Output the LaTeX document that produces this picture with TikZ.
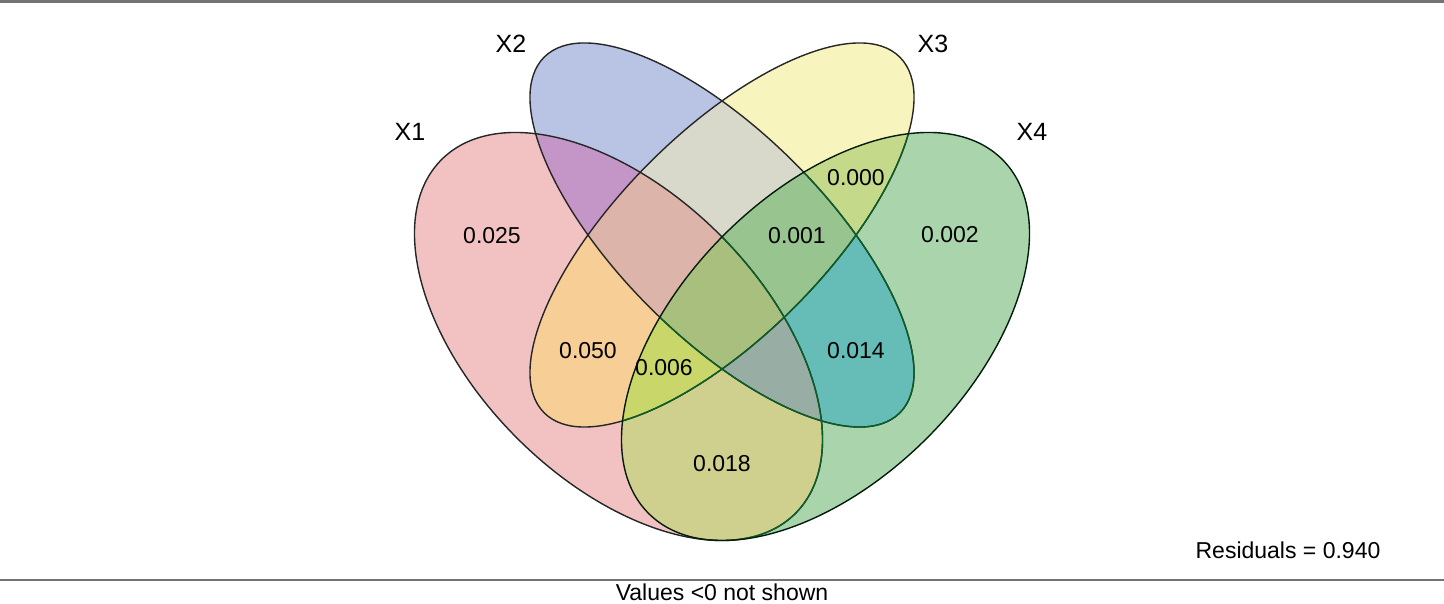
\documentclass[tikz,border=0pt]{standalone}
\usepackage{fontspec}
\setmainfont{Liberation Sans}
\definecolor{onlyA}{RGB}{242,194,194}
\definecolor{onlyB}{RGB}{185,196,228}
\definecolor{onlyC}{RGB}{248,244,190}
\definecolor{onlyD}{RGB}{170,212,172}
\definecolor{bothAB}{RGB}{196,150,200}
\definecolor{bothAC}{RGB}{246,206,150}
\definecolor{bothAD}{RGB}{207,207,142}
\definecolor{bothBC}{RGB}{217,217,203}
\definecolor{bothBD}{RGB}{102,189,184}
\definecolor{bothCD}{RGB}{196,217,138}
\definecolor{triABC}{RGB}{221,180,170}
\definecolor{triABD}{RGB}{152,174,165}
\definecolor{triACD}{RGB}{200,214,106}
\definecolor{triBCD}{RGB}{152,196,144}
\definecolor{allABCD}{RGB}{169,191,125}
\definecolor{rimgreen}{RGB}{10,95,40}
\definecolor{framegray}{RGB}{115,115,115}
\tikzset{
  outline/.style={line width=1.4pt, draw=black!85},
  setlabel/.style={font=\fontsize{25}{30}\selectfont, inner sep=0pt},
  fraclabel/.style={font=\fontsize{23}{28}\selectfont, inner sep=0pt},
  frameline/.style={line width=2.4pt, framegray}
}
% the four sets
\def\ellone{(618.5,267.5) ellipse [x radius=250.2pt, y radius=143.6pt, rotate=-45]}
\def\elltwo{(722,369) ellipse [x radius=251.5pt, y radius=102.3pt, rotate=-45]}
\def\ellthree{(722,369) ellipse [x radius=251.5pt, y radius=102.3pt, rotate=45]}
\def\ellfour{(825.5,267.5) ellipse [x radius=250.2pt, y radius=143.6pt, rotate=45]}
\begin{document}
\begin{tikzpicture}[x=1pt, y=1pt]
    \useasboundingbox (0,0) rectangle (1444,604);
    % single sets
    \fill[onlyA] \ellone;
    \fill[onlyB] \elltwo;
    \fill[onlyC] \ellthree;
    \fill[onlyD] \ellfour;
    % pairs
    \begin{scope} \clip \ellone; \fill[bothAB] \elltwo; \end{scope}
    \begin{scope} \clip \ellone; \fill[bothAC] \ellthree; \end{scope}
    \begin{scope} \clip \ellone; \fill[bothAD] \ellfour; \end{scope}
    \begin{scope} \clip \elltwo; \fill[bothBC] \ellthree; \end{scope}
    \begin{scope} \clip \elltwo; \fill[bothBD] \ellfour; \end{scope}
    \begin{scope} \clip \ellthree; \fill[bothCD] \ellfour; \end{scope}
    % triples
    \begin{scope} \clip \ellone; \clip \elltwo; \fill[triABC] \ellthree; \end{scope}
    \begin{scope} \clip \ellone; \clip \elltwo; \fill[triABD] \ellfour; \end{scope}
    \begin{scope} \clip \ellone; \clip \ellthree; \fill[triACD] \ellfour; \end{scope}
    \begin{scope} \clip \elltwo; \clip \ellthree; \fill[triBCD] \ellfour; \end{scope}
    \begin{scope} \clip \ellone; \clip \elltwo; \clip \ellthree; \fill[allABCD] \ellfour; \end{scope}
    % outlines
    \draw[outline] \ellone;
    \draw[outline] \elltwo;
    \draw[outline] \ellthree;
    \begin{scope}
        \clip \ellfour;
        \draw[outline, draw=rimgreen] \ellone;
        \draw[outline, draw=rimgreen] \elltwo;
        \draw[outline, draw=rimgreen] \ellthree;
    \end{scope}
    \draw[outline, draw=black!70!rimgreen] \ellfour;
    % set names
    \node[setlabel] (labA) at (410,472) {X1};
    \node[setlabel] (labB) at (511,560) {X2};
    \node[setlabel] (labC) at (933,560) {X3};
    \node[setlabel] (labD) at (1032,472) {X4};
    % fractions
    \node[fraclabel] (fA) at (492,368) {0.025};
    \node[fraclabel] (fAC) at (588,253) {0.050};
    \node[fraclabel] (fACD) at (664,236) {0.006};
    \node[fraclabel] (fAD) at (722,140) {0.018};
    \node[fraclabel] (fBD) at (856,253) {0.014};
    \node[fraclabel] (fCD) at (856,426) {0.000};
    \node[fraclabel] (fBCD) at (797,368) {0.001};
    \node[fraclabel] (fD) at (950,369) {0.002};
    \node[fraclabel] (resid) at (1288,54) {Residuals = 0.940};
    % frame
    \draw[frameline] (0,602.5) -- (1444,602.5);
    \draw[frameline] (0,24) -- (1444,24);
    \node[fraclabel] (note) at (722,12) {Values <0 not shown};
\end{tikzpicture}
\end{document}
